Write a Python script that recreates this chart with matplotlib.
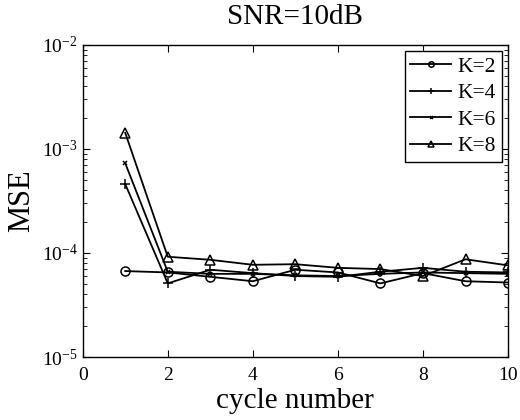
import numpy as np
import matplotlib
matplotlib.use("Agg")
import matplotlib.pyplot as plt

plt.rcParams['font.family'] = ['Liberation Serif', 'DejaVu Serif']
plt.rcParams['mathtext.fontset'] = 'custom'
plt.rcParams['mathtext.rm'] = 'Liberation Serif'
plt.rcParams['mathtext.it'] = 'Liberation Serif:italic'

cycles = [1, 2, 3, 4, 5, 6, 7, 8, 9, 10]
mse_k2 = [6.7e-5, 6.5e-5, 5.9e-5, 5.35e-5, 6.9e-5, 6.5e-5, 5.1e-5, 6.4e-5, 5.35e-5, 5.2e-5]
mse_k4 = [4.6e-4, 5.1e-5, 6.9e-5, 6.4e-5, 6.0e-5, 5.9e-5, 6.6e-5, 7.2e-5, 6.6e-5, 6.5e-5]
mse_k6 = [7.3e-4, 6.6e-5, 6.3e-5, 6.3e-5, 6.1e-5, 6.0e-5, 6.3e-5, 6.5e-5, 6.4e-5, 6.3e-5]
mse_k8 = [1.43e-3, 9.2e-5, 8.6e-5, 7.7e-5, 7.8e-5, 7.2e-5, 7.0e-5, 6.0e-5, 8.7e-5, 7.6e-5]
labels = ['K=2', 'K=4', 'K=6', 'K=8']

fig = plt.figure(figsize=(5.2, 4.2), dpi=100)
ax = fig.add_axes([0.159, 0.15, 0.818, 0.743])

style = dict(color='black', linewidth=1.3, markerfacecolor='none', markeredgewidth=1.1)
ax.semilogy(cycles, mse_k2, marker='o', markersize=6.5, label=labels[0], **style)
ax.semilogy(cycles, mse_k4, marker='+', markersize=7, label=labels[1], **style)
ax.semilogy(cycles, mse_k6, marker='x', markersize=3.5, label=labels[2], **style)
ax.semilogy(cycles, mse_k8, marker='^', markersize=7.5, label=labels[3], **style)

ax.set_xlim(0, 10)
ax.set_ylim(1e-5, 1e-2)
ax.set_xticks([0, 2, 4, 6, 8, 10])
ax.tick_params(which='both', direction='in', top=True, right=True, labelsize=14)
ax.tick_params(axis='x', pad=7)
ax.tick_params(which='major', length=5)
ax.tick_params(which='minor', length=3)
for s in ax.spines.values():
    s.set_linewidth(1.0)

ax.set_title('SNR=10dB', fontsize=21, pad=15)
ax.set_xlabel('cycle number', fontsize=21, labelpad=3)
ax.set_ylabel('MSE', fontsize=22, labelpad=4)

leg = ax.legend(loc='upper right', fontsize=15.5, fancybox=False, framealpha=1,
                edgecolor='black', borderpad=0.25, labelspacing=0.3,
                handlelength=1.9, handletextpad=0.3, borderaxespad=0.3,
                markerscale=0.6)
leg.get_frame().set_linewidth(1.0)

fig.savefig('out.png', dpi=100)
